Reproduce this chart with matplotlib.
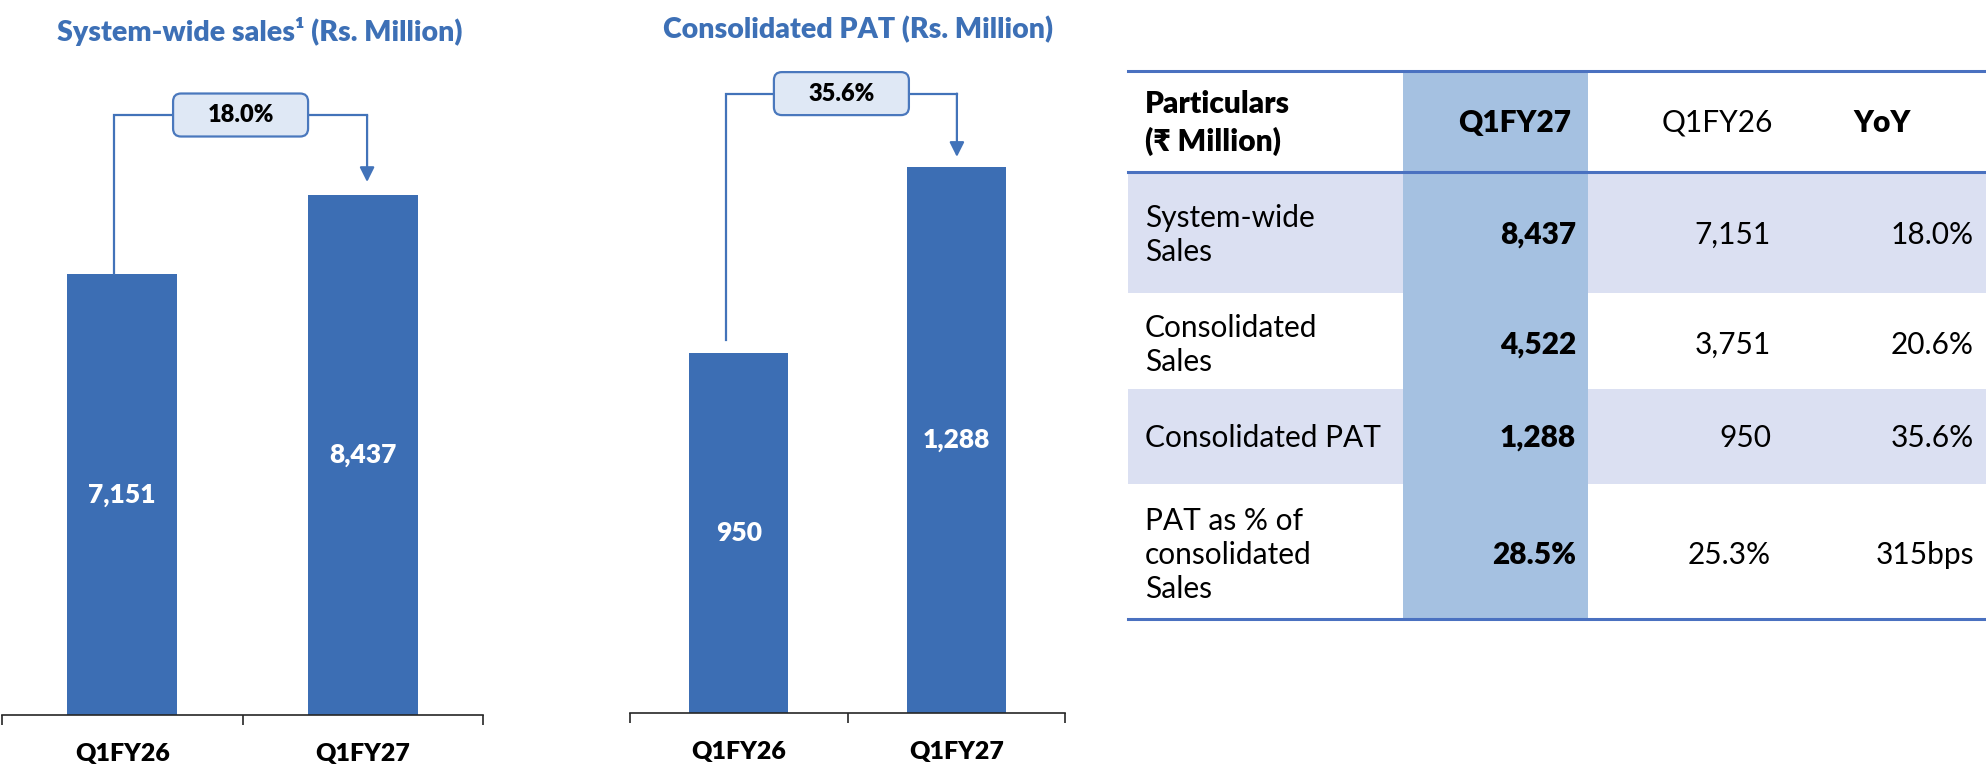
import matplotlib
matplotlib.use("Agg")
import matplotlib.pyplot as plt
from matplotlib.patches import FancyBboxPatch, Rectangle
from matplotlib.transforms import IdentityTransform

plt.rcParams["font.family"] = ["Lato", "DejaVu Sans"]

# data
periods = ["Q1FY26", "Q1FY27"]
sales = [7151, 8437]
pat = [950, 1288]
sales_growth = "18.0%"
pat_growth = "35.6%"

table_cols = ["Particulars\n(₹ Million)", "Q1FY27", "Q1FY26", "YoY"]
particulars = ["System-wide\nSales", "Consolidated\nSales", "Consolidated PAT",
               "PAT as % of\nconsolidated\nSales"]
col_q1fy27 = ["8,437", "4,522", "1,288", "28.5%"]
col_q1fy26 = ["7,151", "3,751", "950", "25.3%"]
col_yoy = ["18.0%", "20.6%", "35.6%", "315bps"]

BAR = "#3C6EB4"
TITLE = "#3D70B6"
LINE = "#4273B9"
BOX_FC = "#DFE8F5"
BOX_EC = "#4A78BD"
TBL_LINE = "#4A71C0"
BAND = "#DBE0F2"
HILITE = "#A5C1E1"
BOLD = "heavy"

W, H = 1986, 768
fig = plt.figure(figsize=(W / 100, H / 100), dpi=100)


def px_axes(x0, x1, ybase):
    # axes from figure top down to the baseline, given in pixels
    return fig.add_axes([x0 / W, 1 - ybase / H, (x1 - x0) / W, ybase / H])


def bar_panel(ax, values, ymin, ymax, growth, xl_off, xr_off, level, tip, gap_left):
    x = range(len(values))
    ax.bar(x, values, width=0.457, color=BAR, zorder=2)
    ax.set_xlim(-0.5, len(values) - 0.5)
    ax.set_ylim(ymin, ymax)
    for s in ["left", "right", "top"]:
        ax.spines[s].set_visible(False)
    ax.spines["bottom"].set_color("#262626")
    ax.spines["bottom"].set_linewidth(1.2)
    ax.set_yticks([])
    ax.set_xticks(list(x))
    ax.set_xticklabels(periods, fontsize=18, fontweight=BOLD)
    ax.tick_params(axis="x", which="major", length=0, pad=20)
    ax.set_xticks([-0.5, 0.5, 1.5], minor=True)
    ax.tick_params(axis="x", which="minor", length=7, width=1.2, color="#262626")
    for i, v in enumerate(values):
        ax.text(i, (max(ymin, 0) + v) / 2, f"{v:,}", ha="center", va="center",
                color="white", fontsize=19, fontweight=BOLD, zorder=3)

    xl = 0 + xl_off
    xr = 1 + xr_off
    ax.plot([xl, xl, xr], [values[0] + gap_left, level, level], color=LINE,
            lw=1.6, clip_on=False, solid_joinstyle="miter", zorder=3)
    ax.annotate("", xy=(xr, tip), xytext=(xr, level),
                arrowprops=dict(arrowstyle="-|>", color=LINE, lw=1.6,
                                shrinkA=0, shrinkB=0, mutation_scale=22),
                annotation_clip=False, zorder=3)
    cx, cy = ax.transData.transform(((xl + xr) / 2, level))
    bw, bh = 135, 43
    box = FancyBboxPatch((cx - bw / 2, cy - bh / 2), bw, bh,
                         boxstyle="round,pad=0,rounding_size=8",
                         fc=BOX_FC, ec=BOX_EC, lw=1.6,
                         transform=IdentityTransform(), zorder=4)
    fig.add_artist(box)
    fig.text(cx / W, cy / H, growth, ha="center", va="center",
             fontsize=17, fontweight=BOLD, color="black", zorder=5)


# System-wide sales chart
ax1 = px_axes(2, 483, 715)
bar_panel(ax1, sales, 0, 11601, sales_growth, -0.034, 0.018, 9735, 8648, 0)
fig.text(260 / W, 1 - 32 / H, "System-wide sales¹ (Rs. Million)", ha="center",
         va="center", fontsize=20.5, fontweight=BOLD, color=TITLE)

# Consolidated PAT chart
ax2 = px_axes(630, 1065, 713)
bar_panel(ax2, pat, 296, 1591, pat_growth, -0.059, 0.003, 1421, 1306, 24)
fig.text(858 / W, 1 - 30 / H, "Consolidated PAT (Rs. Million)", ha="center",
         va="center", fontsize=20.5, fontweight=BOLD, color=TITLE)

# table, laid out in pixel coordinates
tx = fig.add_axes([0, 0, 1, 1])
tx.set_xlim(0, W)
tx.set_ylim(H, 0)
tx.axis("off")

tbl_x0, tbl_x1 = 1128, W
hl_x0, hl_x1 = 1403, 1588
row_edges = [71, 172, 293, 389, 484, 619]
text_y = [235, 345, 438, 555]
banded = [True, False, True, False]

for i, b in enumerate(banded):
    if b:
        tx.add_patch(Rectangle((tbl_x0, row_edges[i + 1]), tbl_x1 - tbl_x0,
                               row_edges[i + 2] - row_edges[i + 1], fc=BAND, ec="none", zorder=1))
tx.add_patch(Rectangle((hl_x0, row_edges[0]), hl_x1 - hl_x0,
                       row_edges[-1] - row_edges[0], fc=HILITE, ec="none", zorder=2))
for y in [row_edges[0], row_edges[1], row_edges[-1]]:
    tx.plot([tbl_x0, tbl_x1], [y, y], color=TBL_LINE, lw=2.2, zorder=3)

fs = 21.5
tx.text(1145, 123, table_cols[0], ha="left", va="center", fontsize=fs,
        fontweight=BOLD, linespacing=1.38, zorder=4)
tx.text(1571, 123, table_cols[1], ha="right", va="center", fontsize=fs,
        fontweight=BOLD, zorder=4)
tx.text(1773, 123, table_cols[2], ha="right", va="center", fontsize=fs, zorder=4)
tx.text(1911, 123, table_cols[3], ha="right", va="center", fontsize=fs,
        fontweight=BOLD, zorder=4)

for i in range(len(particulars)):
    y = text_y[i]
    tx.text(1145, y, particulars[i], ha="left", va="center", fontsize=fs,
            linespacing=1.27, zorder=4)
    tx.text(1576, y, col_q1fy27[i], ha="right", va="center", fontsize=fs,
            fontweight=BOLD, zorder=4)
    tx.text(1771, y, col_q1fy26[i], ha="right", va="center", fontsize=fs, zorder=4)
    tx.text(1974, y, col_yoy[i], ha="right", va="center", fontsize=fs, zorder=4)

fig.savefig("out.png", dpi=100)
